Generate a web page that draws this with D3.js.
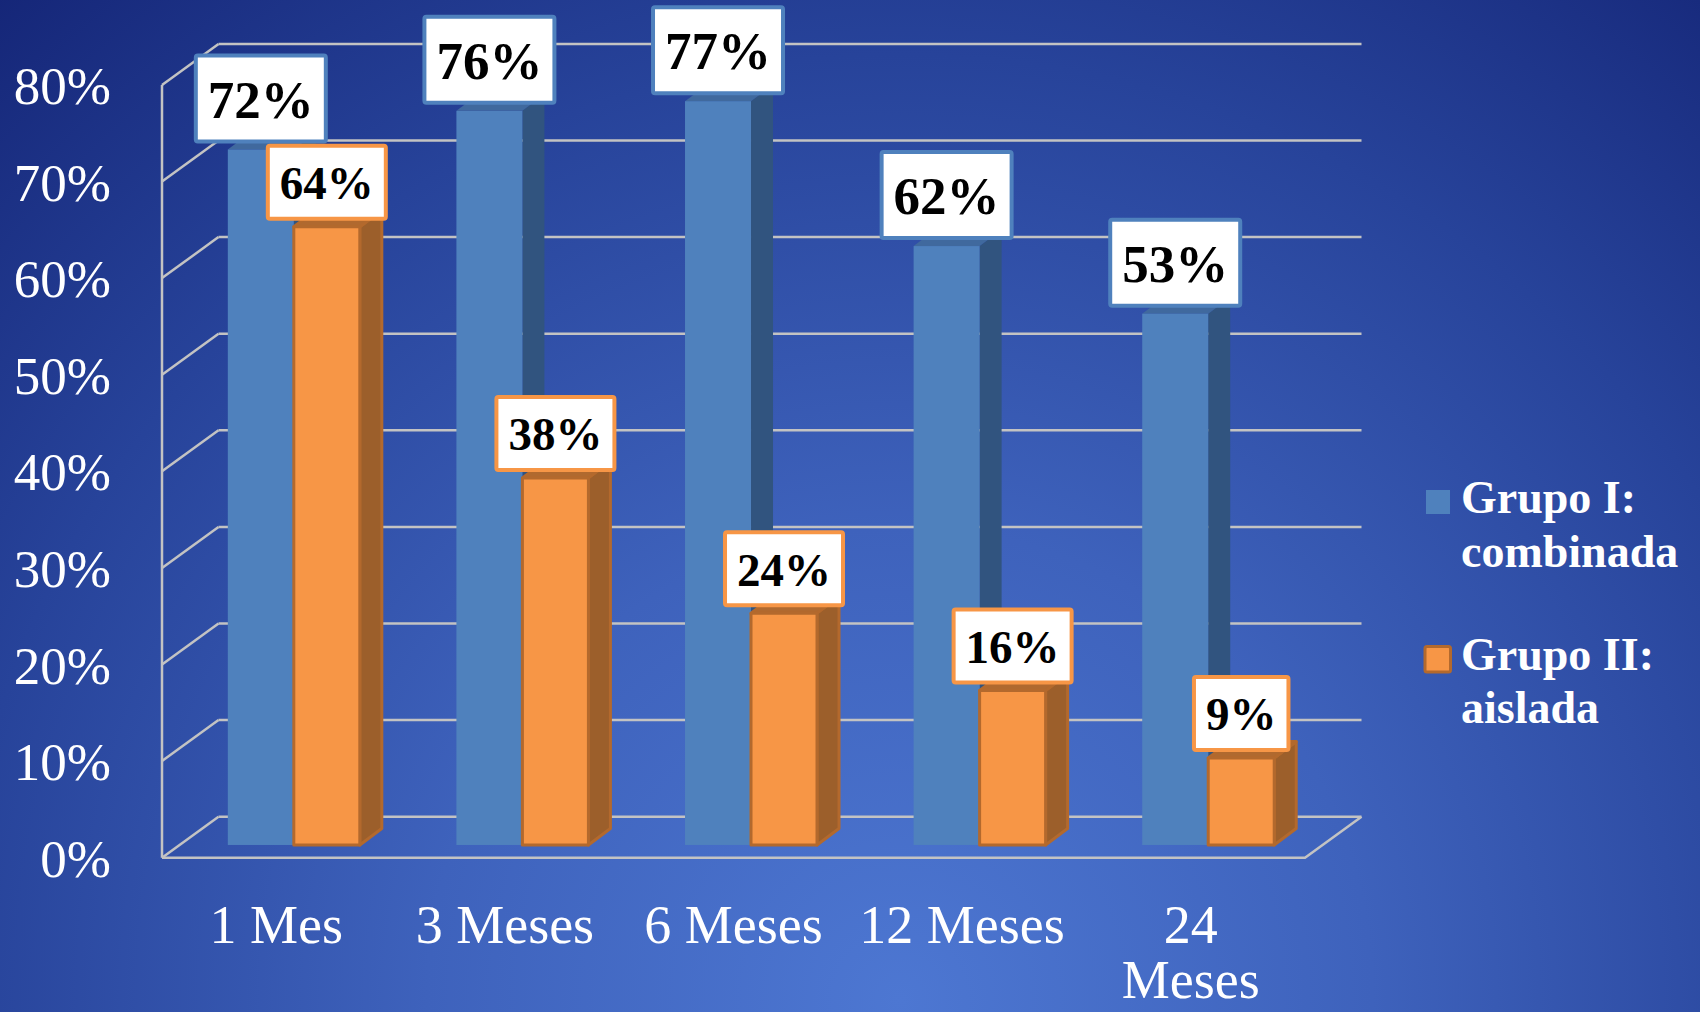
<!DOCTYPE html>
<html><head><meta charset="utf-8">
<script src="https://cdn.jsdelivr.net/npm/d3@7"></script>
<style>html,body{margin:0;padding:0;background:#1f3a8c;} svg{display:block}</style>
</head><body><svg id="c" width="1700" height="1012"></svg>
<script>
// ---- data ----
const categories = ["1 Mes", "3 Meses", "6 Meses", "12 Meses", "24 Meses"];
const categoryLines = [["1 Mes"], ["3 Meses"], ["6 Meses"], ["12 Meses"], ["24", "Meses"]];
const seriesNames = ["Grupo I: combinada", "Grupo II: aislada"];
const legendLines = [["Grupo I:", "combinada"], ["Grupo II:", "aislada"]];
const grupoI = [0.72, 0.76, 0.77, 0.62, 0.55];
const grupoII = [0.64, 0.38, 0.24, 0.16, 0.09];
const grupoILabels = ["72%", "76%", "77%", "62%", "53%"];
const grupoIILabels = ["64%", "38%", "24%", "16%", "9%"];
const yTicks = [0, 0.1, 0.2, 0.3, 0.4, 0.5, 0.6, 0.7, 0.8];

// ---- styles / geometry ----
const W = 1700, H = 1012;
const FX0 = 162, FX1 = 1305, FY0 = 857.7;   // front floor edge
const DX = 56.5, DY = -41;                   // wall depth vector
const T0 = 0.31;                             // bar front plane (fraction of depth)
const BDX = 22, BDY = -16.5;                 // bar depth
const grid = "#C3C3C3";
const styles = [
  {front: "#4F81BD", side: "#31547F", top: "#40699E", stroke: "none", sw: 0,
   box: "#4F81BD", font: 53, boxH: 90},
  {front: "#F79646", side: "#9C5F2B", top: "#B0692F", stroke: "#B3692D", sw: 3,
   box: "#F79646", font: 47, boxH: 77}
];
const serif = "'Liberation Serif', 'Times New Roman', serif";

const svg = d3.select("#c");
const defs = svg.append("defs");
const rg = defs.append("radialGradient").attr("id", "bg")
  .attr("gradientUnits", "userSpaceOnUse")
  .attr("cx", 900).attr("cy", 1000).attr("r", 1350);
[[0, "#4D77D2"], [0.35, "#3E62BC"], [0.7, "#27439A"], [1, "#152678"]]
  .forEach(([o, c]) => rg.append("stop").attr("offset", o).attr("stop-color", c));
svg.append("rect").attr("width", W).attr("height", H).attr("fill", "url(#bg)");

const yH = d3.scaleLinear().domain([0, 0.8]).range([0, 772.8]);
const x = d3.scaleBand().domain(categories).range([FX0, FX1]);
const bw = 66;
const groupW = 2 * bw;
const xi = d3.scaleBand().domain([0, 1])
  .range([(x.bandwidth() - groupW) / 2, (x.bandwidth() + groupW) / 2]);

// ---- gridlines / walls ----
const g = svg.append("g").attr("stroke", grid).attr("stroke-width", 2.5).attr("fill", "none");
yTicks.forEach(t => {
  const yf = FY0 - yH(t), yb = FY0 + DY - yH(t);
  g.append("line").attr("x1", FX0 + DX).attr("x2", FX1 + DX).attr("y1", yb).attr("y2", yb);
  g.append("line").attr("x1", FX0).attr("y1", yf).attr("x2", FX0 + DX).attr("y2", yb);
});
g.append("line").attr("x1", FX0).attr("x2", FX0).attr("y1", FY0).attr("y2", FY0 - yH(0.8));
g.append("polyline").attr("points", [[FX0, FY0], [FX1, FY0], [FX1 + DX, FY0 + DY]].map(p => p.join(",")).join(" "));

// ---- y labels ----
svg.append("g").selectAll("text").data(yTicks).join("text")
  .attr("x", 111).attr("y", d => FY0 - yH(d)).attr("dy", "0.36em")
  .attr("text-anchor", "end").attr("fill", "#fff")
  .attr("font-family", serif).attr("font-size", 53)
  .text(d => d3.format(".0%")(d));

// ---- category labels ----
svg.append("g").selectAll("text").data(categories).join("text")
  .attr("text-anchor", "middle").attr("fill", "#fff")
  .attr("font-family", serif).attr("font-size", 54)
  .each(function (d, i) {
    const t = d3.select(this);
    categoryLines[i].forEach((ln, k) => {
      t.append("tspan").attr("x", x(d) + x.bandwidth() / 2).attr("y", 943 + k * 55).text(ln);
    });
  });

// ---- bars ----
const series = [grupoI, grupoII];
const barBottom = FY0 + T0 * DY;
const bars = svg.append("g");
const barGeom = [];
categories.forEach((c, ci) => {
  series.forEach((vals, si) => {
    const st = styles[si];
    const xl = x(c) + T0 * DX + xi(si);
    const xr = xl + bw;
    const top = barBottom - yH(vals[ci]);
    const bot = barBottom;
    const gg = bars.append("g").attr("stroke", st.stroke).attr("stroke-width", st.sw)
      .attr("stroke-linejoin", "round");
    gg.append("polygon").attr("fill", st.side)
      .attr("points", [[xr, top], [xr + BDX, top + BDY], [xr + BDX, bot + BDY], [xr, bot]].map(p => p.join(",")).join(" "));
    gg.append("polygon").attr("fill", st.top)
      .attr("points", [[xl, top], [xl + BDX, top + BDY], [xr + BDX, top + BDY], [xr, top]].map(p => p.join(",")).join(" "));
    gg.append("rect").attr("x", xl).attr("y", top).attr("width", bw).attr("height", bot - top).attr("fill", st.front);
    barGeom.push({si, ci, cx: (xl + xr) / 2, top});
  });
});

// ---- data labels ----
const labels = [grupoILabels, grupoIILabels];
const lg = svg.append("g");
[0, 1].forEach(si => {
  barGeom.filter(b => b.si === si).forEach(b => {
    const st = styles[si];
    const grp = lg.append("g");
    const rect = grp.append("rect");
    const txt = grp.append("text").attr("text-anchor", "middle")
      .attr("font-family", serif).attr("font-weight", "bold").attr("font-size", st.font)
      .attr("fill", "#000").text(labels[si][b.ci]);
    const tw = txt.node().getComputedTextLength();
    const bwid = tw + 28, bh = st.boxH;
    const by = b.top - 6 - bh;
    rect.attr("x", b.cx - bwid / 2 + 2).attr("y", by + 2).attr("width", bwid - 4).attr("height", bh - 4)
      .attr("fill", "#fff").attr("stroke", st.box).attr("stroke-width", 4).attr("rx", 2);
    txt.attr("x", b.cx).attr("y", by + bh / 2).attr("dy", "0.36em");
  });
});

// ---- legend ----
const leg = svg.append("g");
leg.append("rect").attr("x", 1426).attr("y", 490).attr("width", 24).attr("height", 24).attr("fill", styles[0].front);
leg.append("rect").attr("x", 1425).attr("y", 646.5).attr("width", 25.5).attr("height", 25.5)
  .attr("fill", styles[1].front).attr("stroke", styles[1].stroke).attr("stroke-width", 3).attr("rx", 2);
const legY = [[513, 567], [670, 723]];
legendLines.forEach((lines, si) => {
  const t = leg.append("text").attr("fill", "#fff").attr("font-family", serif)
    .attr("font-weight", "bold").attr("font-size", 46);
  lines.forEach((ln, k) => t.append("tspan").attr("x", 1461).attr("y", legY[si][k]).text(ln));
});
</script>
</body></html>
